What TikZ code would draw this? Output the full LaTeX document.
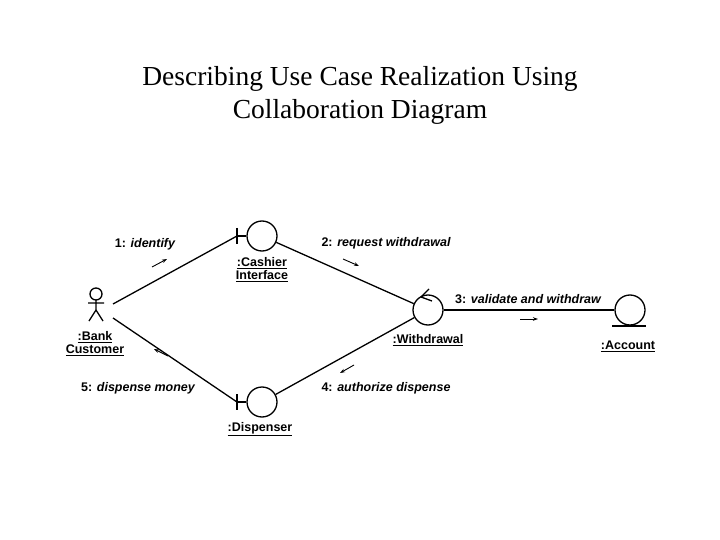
\documentclass[tikz,border=0pt]{standalone}
\usepackage{fontspec}
\setmainfont{Liberation Serif}
\setsansfont{Liberation Sans}
\usetikzlibrary{arrows.meta}
\begin{document}
\begin{tikzpicture}[x=1pt,y=-1pt,line width=1.3pt,
  obj/.style={circle,draw,minimum size=30pt,inner sep=0pt},
  lbl/.style={font=\sffamily\bfseries\fontsize{12.5}{15}\selectfont,align=center},
  msg/.style={font=\sffamily\bfseries\fontsize{12.5}{15}\selectfont},
  marr/.style={-{Stealth[length=5pt,width=3.5pt]},line width=0.9pt}]
\useasboundingbox (0,0) rectangle (720,540);
\node[font=\fontsize{27.5}{33}\selectfont,align=center] (title) at (360,95) {Describing Use Case Realization Using\\Collaboration Diagram};
% actor
\draw (96,294) circle (6);
\draw (96,300) -- (96,310) (88,303) -- (104,303) (96,310) -- (89,321) (96,310) -- (103,321);
\coordinate (act1) at (113,304);
\coordinate (act2) at (113,318);
\node[lbl] (bank) at (95,344) {\underline{:Bank}\\[-2pt]\underline{Customer}};
% objects
\node[obj] (cash) at (262,236) {};
\draw (237,228) -- (237,244) (237,236) -- (cash.west);
\coordinate (cashb) at (237,236);
\node[lbl] (cashl) at (262,270) {\underline{:Cashier}\\[-2pt]\underline{Interface}};
\node[obj] (disp) at (262,402) {};
\draw (237,394) -- (237,410) (237,402) -- (disp.west);
\coordinate (dispb) at (237,402);
\node[lbl] (displ) at (260,429) {\underline{:Dispenser}};
\node[obj] (wd) at (428,310) {};
\draw (421,297) -- (429,289) (421,297) -- (432,301);
\node[lbl] (wdl) at (428,340) {\underline{:Withdrawal}};
\node[obj] (acc) at (630,310) {};
\draw (612,326) -- (646,326);
\node[lbl] (accl) at (628,346) {\underline{:Account}};
% links
\draw (act1) -- (cashb);
\draw (act2) -- (dispb);
\draw (cash) -- (wd);
\draw (disp) -- (wd);
\draw (wd) -- (acc);
% messages
\node[msg] (m1) at (145,244) {1: \itshape identify};
\draw[marr] (152,267) -- (167,259);
\node[msg] (m2) at (386,243) {2: \itshape request withdrawal};
\draw[marr] (343,259) -- (359,266);
\node[msg] (m3) at (528,299) {3: \itshape validate and withdraw};
\draw[marr] (520,319) -- (538,319);
\node[msg] (m4) at (386,388) {4: \itshape authorize dispense};
\draw[marr] (354,365) -- (340,373);
\node[msg] (m5) at (138,388) {5: \itshape dispense money};
\draw[marr] (168,356) -- (154,349);
\end{tikzpicture}
\end{document}
